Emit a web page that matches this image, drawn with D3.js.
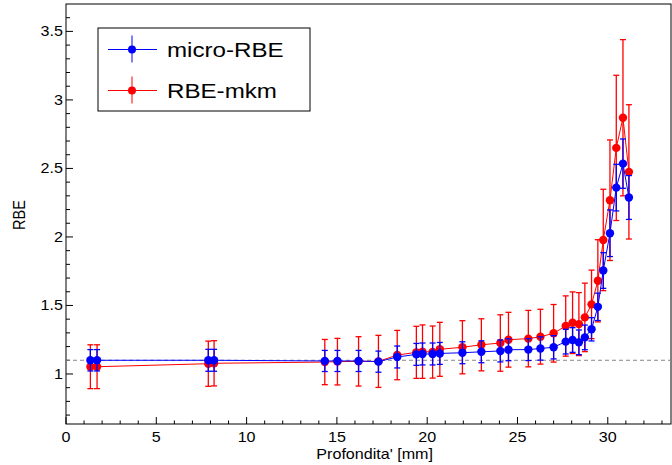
<!DOCTYPE html>
<html><head><meta charset="utf-8">
<script src="https://cdn.jsdelivr.net/npm/d3@7"></script>
<style>body{margin:0;background:#fff}svg{display:block}text{font-family:"Liberation Sans",Arial,sans-serif;fill:#000}</style>
</head><body>
<svg id="c" width="672" height="465"></svg>
<script>
const depth = [1.35,1.72,7.88,8.2,14.33,15.03,16.2,17.3,18.34,19.4,19.74,20.3,20.7,21.95,23.0,24.05,24.5,25.6,26.27,27.0,27.67,28.05,28.4,28.73,29.1,29.45,29.75,30.12,30.47,30.84,31.17];
const microRBE = [1.10,1.10,1.10,1.10,1.095,1.095,1.095,1.09,1.124,1.143,1.146,1.146,1.15,1.155,1.162,1.168,1.177,1.178,1.186,1.195,1.236,1.248,1.231,1.267,1.326,1.49,1.755,2.027,2.36,2.535,2.288];
const microErr = [0.078,0.078,0.08,0.08,0.077,0.077,0.077,0.077,0.08,0.08,0.08,0.08,0.08,0.08,0.08,0.08,0.08,0.08,0.085,0.085,0.09,0.09,0.09,0.09,0.085,0.1,0.13,0.17,0.17,0.18,0.16];
const mkmRBE = [1.053,1.053,1.075,1.078,1.087,1.09,1.092,1.092,1.138,1.158,1.163,1.16,1.18,1.195,1.213,1.226,1.25,1.258,1.272,1.297,1.35,1.374,1.364,1.413,1.508,1.68,1.978,2.268,2.65,2.87,2.475];
const mkmErr = [0.16,0.16,0.165,0.165,0.165,0.17,0.18,0.19,0.18,0.19,0.195,0.19,0.197,0.194,0.19,0.206,0.2,0.206,0.2,0.21,0.22,0.225,0.23,0.25,0.25,0.3,0.37,0.44,0.53,0.57,0.49];
const xTicks = [0,5,10,15,20,25,30];
const yTicks = [1,1.5,2,2.5,3,3.5];
const refLine = 1.1;
const seriesNames = ["micro-RBE","RBE-mkm"];

const svg = d3.select("#c");
const L=66, R=671, T=4, B=424, SX=1.15;
const x = d3.scaleLinear().domain([0,33.5]).range([L,R]);
const y = d3.scaleLinear().domain([0.635,3.7]).range([B,T]);

// frame
svg.append("rect").attr("x",L).attr("y",T).attr("width",R-L).attr("height",B-T)
  .attr("fill","none").attr("stroke","#000").attr("stroke-width",1);

// x ticks (inward)
const xg = svg.append("g").attr("stroke","#000").attr("stroke-width",1);
d3.range(0,34,1).forEach(v=>{
  const major = v%5===0;
  xg.append("line").attr("x1",x(v)).attr("x2",x(v)).attr("y1",B).attr("y2",B-(major?7:3.5));
});
xTicks.forEach(v=>{
  svg.append("text").attr("transform",`translate(${x(v)},442) scale(${SX},1)`)
    .attr("text-anchor","middle").attr("font-size",14).text(v);
});
// y ticks
const yg = svg.append("g").attr("stroke","#000").attr("stroke-width",1);
d3.range(7,37,1).forEach(i=>{
  const v=i/10, major = i%5===0;
  yg.append("line").attr("x1",L).attr("x2",L+(major?7:4)).attr("y1",y(v)).attr("y2",y(v));
});
yTicks.forEach(v=>{
  svg.append("text").attr("transform",`translate(63,${y(v)+5}) scale(${SX},1)`)
    .attr("text-anchor","end").attr("font-size",14).text(v);
});

// axis titles
svg.append("text").attr("transform",`translate(433,459) scale(${SX},1)`)
  .attr("text-anchor","end").attr("font-size",14).text("Profondita' [mm]");
svg.append("text").attr("transform",`translate(25,215) scale(${SX},1) rotate(-90)`)
  .attr("text-anchor","middle").attr("font-size",14.5).text("RBE");

// reference dashed line
svg.append("line").attr("x1",L).attr("x2",R).attr("y1",y(refLine)).attr("y2",y(refLine))
  .attr("stroke","#888").attr("stroke-width",1).attr("stroke-dasharray","4,3");

function drawSeries(vals, errs, color){
  const g = svg.append("g");
  const line = d3.line().x((d,i)=>x(depth[i])).y(d=>y(d));
  g.append("path").attr("d",line(vals)).attr("fill","none").attr("stroke",color).attr("stroke-width",1);
  vals.forEach((v,i)=>{
    const cx=x(depth[i]), y1=y(v+errs[i]), y0=y(v-errs[i]);
    g.append("line").attr("x1",cx).attr("x2",cx).attr("y1",y1).attr("y2",y0).attr("stroke",color).attr("stroke-width",1.3);
    [y1,y0].forEach(yy=>g.append("line").attr("x1",cx-3).attr("x2",cx+3).attr("y1",yy).attr("y2",yy).attr("stroke",color).attr("stroke-width",1.3));
  });
  vals.forEach((v,i)=>{
    g.append("circle").attr("cx",x(depth[i])).attr("cy",y(v)).attr("r",4.2).attr("fill",color);
  });
}
drawSeries(mkmRBE, mkmErr, "#ff0000");
drawSeries(microRBE, microErr, "#0000ff");

// legend
const lg = svg.append("g");
lg.append("rect").attr("x",98).attr("y",28).attr("width",212).attr("height",83)
  .attr("fill","#fff").attr("stroke","#000").attr("stroke-width",1);
[["#0000ff",49.5],["#ff0000",90.5]].forEach(([c,yy],i)=>{
  lg.append("line").attr("x1",108).attr("x2",157).attr("y1",yy).attr("y2",yy).attr("stroke",c).attr("stroke-width",1);
  lg.append("line").attr("x1",132).attr("x2",132).attr("y1",yy-14).attr("y2",yy+13).attr("stroke",c).attr("stroke-width",1);
  lg.append("circle").attr("cx",132).attr("cy",yy).attr("r",4).attr("fill",c);
  lg.append("text").attr("transform",`translate(167,${yy+7.5}) scale(${SX},1)`)
    .attr("font-size",21).text(seriesNames[i]);
});
</script>
</body></html>
